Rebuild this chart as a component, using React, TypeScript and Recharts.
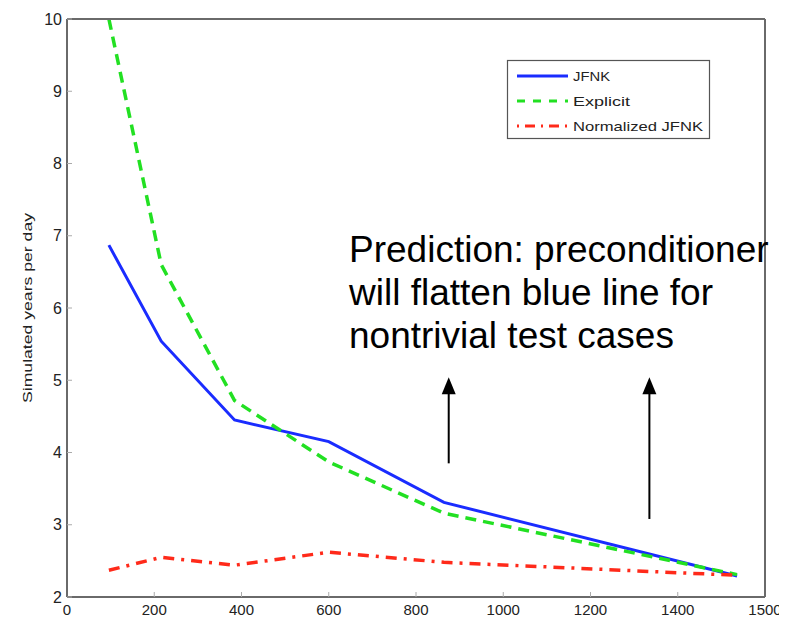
import React from 'react';
import { LineChart, Line, XAxis, YAxis, ReferenceLine } from 'recharts';

const elements = [96, 216, 384, 600, 864, 1536];
const jfnk = [6.87, 5.54, 4.45, 4.15, 3.31, 2.29];
const explicit = [10.0, 6.6, 4.72, 3.87, 3.16, 2.31];
const normalized = [2.37, 2.55, 2.44, 2.62, 2.48, 2.3];

const xTicks = [0, 200, 400, 600, 800, 1000, 1200, 1400, 1600];
const xTickLabels = ['0', '200', '400', '600', '800', '1000', '1200', '1400', '1500'];
const yTicks = [2, 3, 4, 5, 6, 7, 8, 9, 10];

const predictionLines = [
  'Prediction: preconditioner',
  'will flatten blue line for',
  'nontrivial test cases',
];

const data = elements.map((x, i) => ({
  x,
  jfnk: jfnk[i],
  explicit: explicit[i],
  normalized: normalized[i],
}));

const FONT = '"Liberation Sans", Arial, sans-serif';
const BLUE = '#1a2cff';
const GREEN = '#22e022';
const RED = '#ff2a1a';
const AXIS = '#6a6a6a';

const Arrow = (props: any) => {
  const { x1, y1, x2, y2 } = props;
  return (
    <g>
      <line x1={x1} y1={y1} x2={x2} y2={y2 + 14} stroke="#000" strokeWidth={2} />
      <polygon points={`${x2},${y2} ${x2 - 7},${y2 + 17} ${x2 + 7},${y2 + 17}`} fill="#000" />
    </g>
  );
};

const legendItems = [
  { label: 'JFNK', color: BLUE, dash: undefined, len: 37 },
  { label: 'Explicit', color: GREEN, dash: '8 8', len: 57 },
  { label: 'Normalized JFNK', color: RED, dash: '2 6 10 6', len: 130 },
];

const LegendBox = ({ x, y }: { x: number; y: number }) => (
  <g transform={`translate(${x}, ${y})`}>
    <rect x={0.5} y={0.5} width={202} height={78} fill="#fff" stroke="#555" strokeWidth={1.2} />
    {legendItems.map((it, i) => (
      <g key={it.label}>
        <line
          x1={10}
          x2={61}
          y1={16 + i * 25}
          y2={16 + i * 25}
          stroke={it.color}
          strokeWidth={3}
          strokeDasharray={it.dash}
        />
        <text
          x={66}
          y={20.5 + i * 25}
          fontFamily={FONT}
          fontSize={13}
          fill="#222"
          textLength={it.len}
          lengthAdjust="spacingAndGlyphs"
        >
          {it.label}
        </text>
      </g>
    ))}
  </g>
);

const YLabel = (props: any) => {
  const { viewBox } = props;
  const cy = viewBox.y + viewBox.height / 2;
  return (
    <text
      x={0}
      y={0}
      transform={`translate(24, ${cy}) rotate(-90)`}
      textAnchor="middle"
      fontFamily={FONT}
      fontSize={13}
      fill="#222"
      textLength={190}
      lengthAdjust="spacingAndGlyphs"
    >
      Simulated years per day
    </text>
  );
};

export default function App() {
  return (
    <div style={{ position: 'relative', width: 779, height: 610 }}>
      <LineChart width={779} height={610} data={data} margin={{ top: 0, right: 0, bottom: 0, left: 0 }}>
        <XAxis
          xAxisId="bottom"
          dataKey="x"
          type="number"
          domain={[0, 1600]}
          ticks={xTicks}
          interval={0}
          height={21}
          stroke={AXIS}
          strokeWidth={2}
          tickSize={-5}
          tickMargin={12}
          tickLine={{ stroke: '#aaa', strokeWidth: 1 }}
          tickFormatter={(v: number) => xTickLabels[xTicks.indexOf(v)] ?? String(v)}
          tick={{ fill: '#222', fontSize: 15, fontFamily: FONT }}
        />
        <XAxis
          xAxisId="top"
          orientation="top"
          dataKey="x"
          type="number"
          domain={[0, 1600]}
          ticks={xTicks}
          interval={0}
          height={11}
          stroke={AXIS}
          strokeWidth={2}
          tickSize={-5}
          tickLine={{ stroke: '#aaa', strokeWidth: 1 }}
          tick={false}
        />
        <YAxis
          yAxisId="left"
          type="number"
          domain={[2, 10]}
          ticks={yTicks}
          interval={0}
          width={59}
          stroke={AXIS}
          strokeWidth={2}
          tickSize={-5}
          tickMargin={10}
          tickLine={{ stroke: '#aaa', strokeWidth: 1 }}
          tick={{ fill: '#222', fontSize: 16, fontFamily: FONT }}
          allowDataOverflow
          label={<YLabel />}
        />
        <YAxis
          yAxisId="right"
          orientation="right"
          type="number"
          domain={[2, 10]}
          ticks={yTicks}
          interval={0}
          width={22}
          stroke={AXIS}
          strokeWidth={2}
          tickSize={-5}
          tickLine={{ stroke: '#aaa', strokeWidth: 1 }}
          tick={false}
        />
        <Line
          xAxisId="bottom"
          yAxisId="left"
          dataKey="jfnk"
          stroke={BLUE}
          strokeWidth={3}
          dot={false}
          isAnimationActive={false}
        />
        <Line
          xAxisId="bottom"
          yAxisId="left"
          dataKey="explicit"
          stroke={GREEN}
          strokeWidth={3.5}
          strokeDasharray="11 7"
          dot={false}
          isAnimationActive={false}
        />
        <Line
          xAxisId="bottom"
          yAxisId="left"
          dataKey="normalized"
          stroke={RED}
          strokeWidth={3.5}
          strokeDasharray="11 7 3 7"
          dot={false}
          isAnimationActive={false}
        />
        <ReferenceLine
          xAxisId="bottom"
          yAxisId="left"
          segment={[{ x: 875, y: 3.85 }, { x: 875, y: 5.04 }]}
          shape={<Arrow />}
        />
        <ReferenceLine
          xAxisId="bottom"
          yAxisId="left"
          segment={[{ x: 1335, y: 3.08 }, { x: 1335, y: 5.04 }]}
          shape={<Arrow />}
        />
      </LineChart>
      <svg
        width={779}
        height={610}
        style={{ position: 'absolute', left: 0, top: 0, pointerEvents: 'none' }}
      >
        <LegendBox x={499} y={52} />
        {predictionLines.map((t, i) => (
          <text key={t} x={341} y={254 + i * 43} fontFamily={FONT} fontSize={37} fill="#000">
            {t}
          </text>
        ))}
      </svg>
    </div>
  );
}
